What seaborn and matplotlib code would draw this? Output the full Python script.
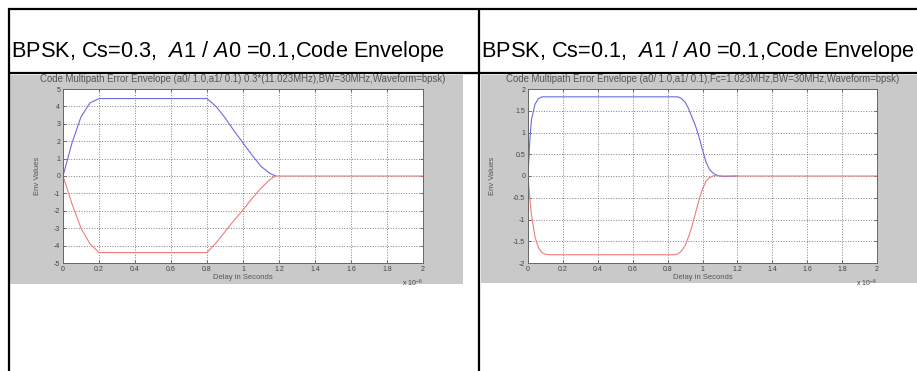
import matplotlib
matplotlib.use('Agg')
import matplotlib.pyplot as plt
import seaborn as sns
from matplotlib.lines import Line2D
from matplotlib.patches import Rectangle

# ---------------- data ----------------
captions = ["BPSK, Cs=0.3,  $\\mathit{A}$1 / $\\mathit{A}$0 =0.1,Code Envelope",
            "BPSK, Cs=0.1,  $\\mathit{A}$1 / $\\mathit{A}$0 =0.1,Code Envelope"]
titles = ["Code Multipath Error Envelope (a0/ 1.0,a1/ 0.1) 0.3*(11.023MHz),BW=30MHz,Waveform=bpsk)",
          "Code Multipath Error Envelope (a0/ 1.0,a1/ 0.1),Fc=1.023MHz,BW=30MHz,Waveform=bpsk)"]
ylabels = ["Env Values", "Env Values"]
xlabel = "Delay in Seconds"
x_ticks = [0, 0.2, 0.4, 0.6, 0.8, 1.0, 1.2, 1.4, 1.6, 1.8, 2.0]
x_tick_labels = ["0", "0.2", "0.4", "0.6", "0.8", "1", "1.2", "1.4", "1.6", "1.8", "2"]
left_y_ticks = [-5, -4, -3, -2, -1, 0, 1, 2, 3, 4, 5]
left_y_tick_labels = ["-5", "-4", "-3", "-2", "-1", "0", "1", "2", "3", "4", "5"]
right_y_ticks = [-2, -1.5, -1, -0.5, 0, 0.5, 1, 1.5, 2]
right_y_tick_labels = ["-2", "-1.5", "-1", "-0.5", "0", "0.5", "1", "1.5", "2"]

# left panel (Cs = 0.3), delay in microseconds
left_up_x = [0, 0.05, 0.1, 0.15, 0.2, 0.8, 0.85, 0.9, 0.95, 1.0, 1.05, 1.1, 1.15, 1.18]
left_up_y = [0, 1.9, 3.4, 4.2, 4.45, 4.45, 4.0, 3.35, 2.6, 1.9, 1.2, 0.55, 0.15, 0]
left_lo_x = [0, 0.05, 0.1, 0.15, 0.2, 0.8, 0.85, 0.9, 0.95, 1.0, 1.05, 1.1, 1.15, 1.18, 2.0]
left_lo_y = [0, -1.6, -3.0, -3.9, -4.4, -4.4, -3.85, -3.2, -2.55, -1.95, -1.3, -0.7, -0.2, 0, 0]

# right panel (Cs = 0.1)
right_up_x = [0, 0.01, 0.02, 0.04, 0.06, 0.08, 0.1, 0.86, 0.88, 0.9, 0.92, 0.94, 0.96,
              0.98, 1.0, 1.02, 1.04, 1.06, 1.08, 1.1, 1.12, 1.2]
right_up_y = [0, 0.8, 1.3, 1.65, 1.78, 1.82, 1.82, 1.82, 1.78, 1.7, 1.55, 1.35, 1.15,
              0.9, 0.6, 0.32, 0.15, 0.07, 0.02, 0.0, -0.01, 0]
right_lo_x = [0, 0.01, 0.02, 0.04, 0.06, 0.08, 0.1, 0.12, 0.84, 0.86, 0.88, 0.9, 0.92,
              0.94, 0.96, 0.98, 1.0, 1.02, 1.04, 1.06, 1.08, 1.1, 2.0]
right_lo_y = [0, -0.5, -0.9, -1.4, -1.65, -1.76, -1.8, -1.81, -1.81, -1.79, -1.72, -1.6,
              -1.4, -1.15, -0.85, -0.55, -0.3, -0.12, -0.04, 0.0, 0.02, 0, 0]

# ---------------- style ----------------
sns.set_theme(style="white")
plt.rcParams['font.family'] = ['Liberation Sans', 'DejaVu Sans']
plt.rcParams['mathtext.fontset'] = 'custom'
plt.rcParams['mathtext.rm'] = 'Liberation Sans'
plt.rcParams['mathtext.it'] = 'Liberation Sans:italic'

W, H = 917, 371
fig = plt.figure(figsize=(W / 100, H / 100), dpi=100)
fig.patch.set_facecolor('white')


def fx(p):
    return p / W


def fy(p):
    return 1 - p / H


def hline(x0, x1, y):
    fig.add_artist(Line2D([fx(x0), fx(x1)], [fy(y), fy(y)], color='black', lw=1.6,
                          transform=fig.transFigure, solid_capstyle='butt'))


def vline(x, y0, y1):
    fig.add_artist(Line2D([fx(x), fx(x)], [fy(y0), fy(y1)], color='black', lw=1.6,
                          transform=fig.transFigure, solid_capstyle='butt'))


# table frame
hline(8, 917, 9)
hline(8, 917, 73)
vline(9, 8, 371)
vline(479, 8, 371)

# captions
fig.text(fx(11), fy(57.5), captions[0], fontsize=15.7, ha='left', va='baseline', color='black')
fig.text(fx(481), fy(57.5), captions[1], fontsize=15.7, ha='left', va='baseline', color='black')

panels = [
    dict(gray=(10, 75, 463, 284), ax=(63, 89, 423, 263), ylim=(-5, 5),
         yt=left_y_ticks, ytl=left_y_tick_labels, lp=9,
         up=(left_up_x, left_up_y), lo=(left_lo_x, left_lo_y), title=titles[0], yl=ylabels[0]),
    dict(gray=(481, 75, 917, 283), ax=(528, 89, 877, 263), ylim=(-2, 2),
         yt=right_y_ticks, ytl=right_y_tick_labels, lp=12,
         up=(right_up_x, right_up_y), lo=(right_lo_x, right_lo_y), title=titles[1], yl=ylabels[1]),
]

for p in panels:
    gx0, gy0, gx1, gy1 = p['gray']
    fig.add_artist(Rectangle((fx(gx0), fy(gy1)), fx(gx1) - fx(gx0), fy(gy0) - fy(gy1),
                             transform=fig.transFigure, facecolor='#c9c9c9',
                             edgecolor='none', zorder=-1))
    ax0, ay0, ax1, ay1 = p['ax']
    ax = fig.add_axes([fx(ax0), fy(ay1), fx(ax1) - fx(ax0), fy(ay0) - fy(ay1)])
    ax.set_facecolor('white')
    sns.lineplot(x=p['up'][0], y=p['up'][1], ax=ax, color='#6b6be0', lw=0.8)
    sns.lineplot(x=p['lo'][0], y=p['lo'][1], ax=ax, color='#ee7c7c', lw=0.8)
    ax.set_xlim(0, 2)
    ax.set_ylim(*p['ylim'])
    ax.set_xticks(x_ticks, x_tick_labels)
    ax.set_yticks(p['yt'], p['ytl'])
    ax.grid(True, color='#808080', ls=':', lw=0.7)
    ax.tick_params(direction='in', length=2, width=0.5, labelsize=5, pad=2,
                   colors='#444444', bottom=True, left=True, top=True, right=True)
    for s in ax.spines.values():
        s.set_color('#666666')
        s.set_linewidth(0.7)
    ax.set_title(p['title'], fontsize=6.9, color='#555555', pad=5)
    ax.set_xlabel(xlabel, fontsize=5.5, color='#555555', labelpad=1)
    ax.set_ylabel(p['yl'], fontsize=5.5, color='#555555', labelpad=p['lp'])
    ax.text(1.0, -0.085, "x 10$^{-6}$", transform=ax.transAxes, fontsize=5,
            ha='right', va='top', color='#444444')

fig.savefig('out.png', dpi=100)
